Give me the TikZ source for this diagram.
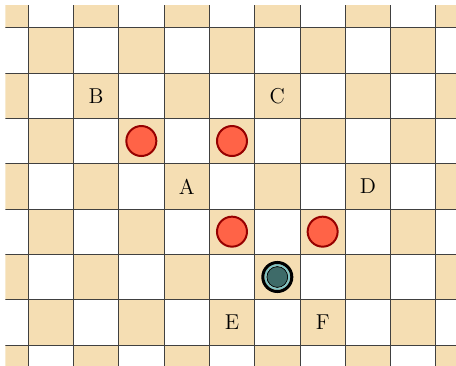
\documentclass[tikz,border=0pt]{standalone}
\definecolor{wheat}{RGB}{245,222,179}
\definecolor{tomato}{RGB}{255,99,71}
\definecolor{stoneedge}{RGB}{150,0,0}
\definecolor{darkteal}{RGB}{62,107,105}
\definecolor{lightteal}{RGB}{130,196,196}
\tikzset{
  redstone/.style={circle,fill=tomato,draw=stoneedge,line width=1.25pt,minimum size=0.662cm,inner sep=0pt},
  tealstone/.style={circle,fill=darkteal,draw=black,line width=0.6pt,minimum size=0.463cm,inner sep=0pt},
  mark label/.style={inner sep=0pt}
}
\begin{document}
\begin{tikzpicture}[font=\fontsize{13.5}{16}\selectfont]
  \useasboundingbox (-0.618,-0.463) rectangle (9.442,7.611);
  % Board.
  \begin{scope}
    \clip (-0.5,-0.463) rectangle (9.442,7.5);
    \foreach \c in {-1,...,9}{\foreach \r in {-1,...,7}{
      \pgfmathtruncatemacro\parity{mod(\c+\r+20,2)}
      \ifnum\parity=0 \fill[wheat] (\c,\r) rectangle ++(1,1);\fi}}
    \foreach \x in {0,...,9}{\draw[black!75,line width=0.6pt] (\x,-0.463) -- (\x,7.5);}
    \foreach \y in {0,...,7}{\draw[black!75,line width=0.6pt] (-0.5,\y) -- (9.442,\y);}
  \end{scope}

  % Labels.
  \node[mark label] (B) at (1.5,5.5) {B};
  \node[mark label] (C) at (5.5,5.5) {C};
  \node[mark label] (A) at (3.5,3.5) {A};
  \node[mark label] (D) at (7.5,3.5) {D};
  \node[mark label] (E) at (4.5,0.5) {E};
  \node[mark label] (F) at (6.5,0.5) {F};

  % Stones.
  \node[redstone] (r1) at (2.5,4.5) {};
  \node[redstone] (r2) at (4.5,4.5) {};
  \node[redstone] (r3) at (4.5,2.5) {};
  \node[redstone] (r4) at (6.5,2.5) {};
  \node[tealstone] (t) at (5.5,1.5) {};
  \draw[lightteal,line width=1.3pt] (t.center) circle (0.265);
  \draw[black,line width=1.9pt] (t.center) circle (0.32);
\end{tikzpicture}
\end{document}
